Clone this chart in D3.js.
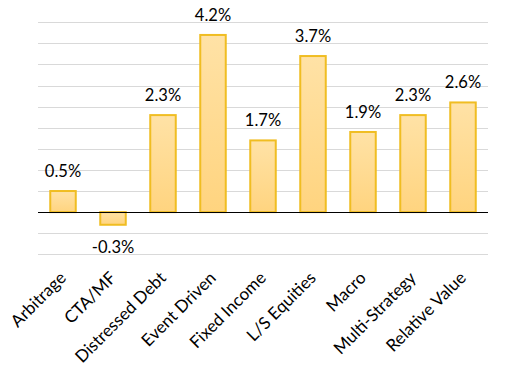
<!DOCTYPE html>
<html><head><meta charset="utf-8">
<script src="https://cdn.jsdelivr.net/npm/d3@7"></script>
<style>body{margin:0;background:#fff}svg{display:block}</style>
</head><body>
<svg id="c" width="510" height="375"></svg>
<script>
const categories = ["Arbitrage","CTA/MF","Distressed Debt","Event Driven","Fixed Income","L/S Equities","Macro","Multi-Strategy","Relative Value"];
const values = [0.5,-0.3,2.3,4.2,1.7,3.7,1.9,2.3,2.6];
const gridTicks = [-1,-0.5,0,0.5,1,1.5,2,2.5,3,3.5,4,4.5];

const svg = d3.select("#c");
const font = "Lato, 'Open Sans', sans-serif";
const x = d3.scaleBand().domain(categories).range([38,488]).paddingInner(0.49).paddingOuter(0.245);
const y = d3.scaleLinear().domain([-1,4.5]).range([254.3,22.3]);

const defs = svg.append("defs");
const g = defs.append("linearGradient").attr("id","gr").attr("x1",0).attr("y1",0).attr("x2",0).attr("y2",1);
g.append("stop").attr("offset","0%").attr("stop-color","#ffe2a6");
g.append("stop").attr("offset","100%").attr("stop-color","#ffd47f");

svg.append("g").selectAll("line").data(gridTicks.filter(d=>d!==0)).join("line")
  .attr("x1",38).attr("x2",488).attr("y1",d=>Math.round(y(d))+0.5).attr("y2",d=>Math.round(y(d))+0.5)
  .attr("stroke","#d9d9d9").attr("stroke-width",1);

svg.append("g").selectAll("rect").data(values).join("rect")
  .attr("x",(d,i)=>x(categories[i]))
  .attr("width",x.bandwidth())
  .attr("y",d=>y(Math.max(0,d)))
  .attr("height",d=>Math.abs(y(d)-y(0)))
  .attr("fill","url(#gr)").attr("stroke","#f0bd22").attr("stroke-width",2);

svg.append("line").attr("x1",38).attr("x2",488).attr("y1",Math.round(y(0))+0.5).attr("y2",Math.round(y(0))+0.5)
  .attr("stroke","#000").attr("stroke-width",1.2);

svg.append("g").selectAll("text").data(values).join("text")
  .attr("x",(d,i)=>x(categories[i])+x.bandwidth()/2)
  .attr("y",d=>d>=0? y(d)-14 : y(d)+28)
  .attr("text-anchor","middle").attr("font-family",font).attr("font-size",16.5).attr("fill","#000")
  .text(d=>d.toFixed(1)+"%");

svg.append("g").selectAll("text").data(categories).join("text")
  .attr("transform",d=>`translate(${x(d)+x.bandwidth()/2+4},${279}) rotate(-45)`)
  .attr("text-anchor","end").attr("font-family",font).attr("font-size",17).attr("fill","#000")
  .text(d=>d);
</script>
</body></html>
